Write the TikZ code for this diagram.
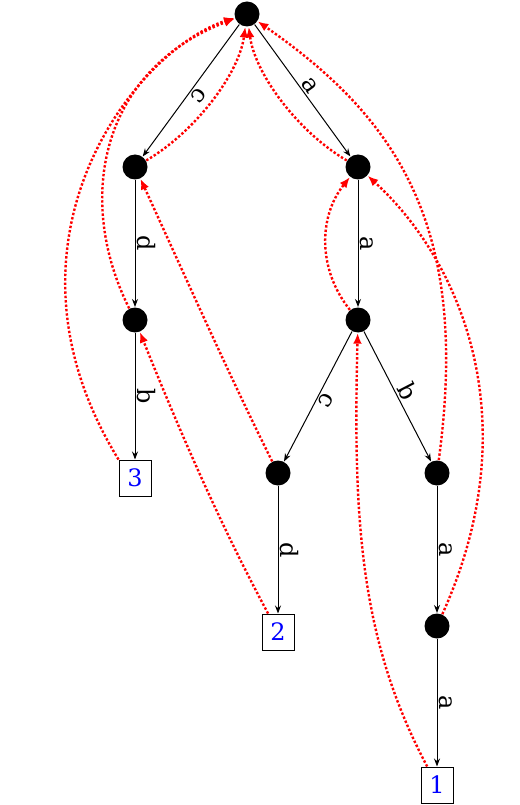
\documentclass[tikz,border=0pt]{standalone}
\usepackage{fontspec}
\setmainfont{DejaVu Serif}
\usetikzlibrary{arrows.meta}

\tikzset{every picture/.style={line width=0.75pt}}
\tikzset{
  every node/.style={font=\fontsize{18}{21}\selectfont},
  state/.style={circle,fill=black,inner sep=0pt,minimum size=18.75pt},
  leaf/.style={draw,rectangle,inner sep=0pt,minimum width=24pt,minimum height=27pt,text=blue},
  trans/.style={-{Stealth[length=6pt,width=4.5pt]}},
  lbl/.style={midway,above,sloped,allow upside down,inner sep=1.5pt},
  link/.style={red,line width=1.8pt,dash pattern=on 1.8pt off 1.5pt,-{Latex[length=8pt,width=6.5pt]}}
}

\begin{document}
\begin{tikzpicture}[x=0.75pt,y=-0.75pt]
\useasboundingbox (0,0) rectangle (520,805);

%States
\node [state] (root) at (247,14) {};
\node [state] (n1) at (135,167) {};
\node [state] (n2) at (358,167) {};
\node [state] (n3) at (135,320) {};
\node [state] (n4) at (358,320) {};
\node [state] (n5) at (278,473) {};
\node [state] (n6) at (437,473) {};
\node [state] (n7) at (437,626) {};

%Leaves
\node [leaf] (leaf3) at (135,478) {3};
\node [leaf] (leaf2) at (278,632) {2};
\node [leaf] (leaf1) at (437,785) {1};

%Transitions
\draw [trans] (root) -- node [lbl] {c} (n1);
\draw [trans] (root) -- node [lbl] {a} (n2);
\draw [trans] (n1) -- node [lbl] {d} (n3);
\draw [trans] (n3) -- node [lbl] {b} (leaf3);
\draw [trans] (n2) -- node [lbl] {a} (n4);
\draw [trans] (n4) -- node [lbl] {c} (n5);
\draw [trans] (n4) -- node [lbl] {b} (n6);
\draw [trans] (n5) -- node [lbl] {d} (leaf2);
\draw [trans] (n6) -- node [lbl] {a} (n7);
\draw [trans] (n7) -- node [lbl] {a} (leaf1);

%Links
\draw [link] (n1) .. controls +(60,-35) and +(-8,60) .. (root);
\draw [link] (n2) .. controls +(-60,-35) and +(8,60) .. (root);
\draw [link] (n3) .. controls +(-60,-120) and +(-147,56) .. (root);
\draw [link] (leaf3.north west) .. controls +(-135,-220) and +(-110,35) .. (root);
\draw [link] (leaf2) .. controls +(-58,-108) and +(45,112) .. (n3);
\draw [link] (n5) .. controls +(-50,-100) and +(46,100) .. (n1);
\draw [link] (n4) .. controls +(-40,-50) and +(-40,50) .. (n2);
\draw [link] (n6) .. controls +(33,-243) and +(153,106) .. (root);
\draw [link] (n7) .. controls +(93,-206) and +(102,93) .. (n2);
\draw [link] (leaf1) .. controls +(-77,-145) and +(-5,200) .. (n4);

\end{tikzpicture}
\end{document}
